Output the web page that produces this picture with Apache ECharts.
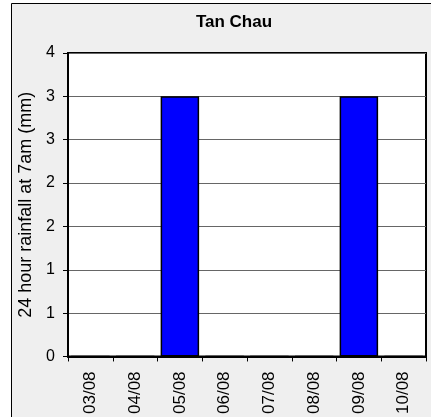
<!DOCTYPE html>
<html>
<head>
<meta charset="utf-8">
<script src="https://cdn.jsdelivr.net/npm/echarts@6/dist/echarts.min.js"></script>
<style>
  html, body { margin: 0; padding: 0; background: #fff; }
  #chart { width: 431px; height: 417px; }
</style>
</head>
<body>
<div id="chart"></div>
<script>
// dates along the bottom
const dates = ['03/08', '04/08', '05/08', '06/08', '07/08', '08/08', '09/08', '10/08']
// 24h rainfall (mm)
const rainfall = [0, 0, 3, 0, 0, 0, 3, 0]
const yMax = 3.5
const yStep = 0.5

const chart = echarts.init(document.getElementById('chart'))
const font = 'Liberation Sans, Arial, sans-serif'

chart.setOption({
  backgroundColor: '#fff',
  animation: false,
  graphic: [{
    type: 'rect',
    z: -10,
    silent: true,
    shape: { x: 11.5, y: 3.5, width: 440, height: 440 },
    style: { fill: '#efefef', stroke: '#000', lineWidth: 1 }
  }],
  title: {
    text: 'Tan Chau',
    left: 229,
    textAlign: 'center',
    top: 9,
    textStyle: { fontFamily: font, fontSize: 17, fontWeight: 'bold', color: '#000' }
  },
  grid: {
    left: 68,
    right: 5,
    top: 53,
    bottom: 60,
    show: true,
    backgroundColor: '#fff',
    borderColor: '#000',
    borderWidth: 2
  },
  xAxis: {
    type: 'category',
    data: dates,
    axisLine: { lineStyle: { color: '#000', width: 2 } },
    axisTick: { show: true, length: 5, lineStyle: { color: '#000' } },
    axisLabel: {
      rotate: 90,
      margin: 15,
      fontFamily: font,
      fontSize: 17,
      color: '#000'
    }
  },
  yAxis: {
    type: 'value',
    min: 0,
    max: yMax,
    interval: yStep,
    name: '24 hour rainfall at 7am (mm)',
    nameLocation: 'middle',
    nameGap: 33,
    nameTextStyle: { fontFamily: font, fontSize: 18, color: '#000' },
    axisLine: { show: true, lineStyle: { color: '#000', width: 2 } },
    axisTick: { show: true, length: 5, lineStyle: { color: '#000' } },
    splitLine: { lineStyle: { color: '#666', width: 1 } },
    axisLabel: {
      margin: 13,
      fontFamily: font,
      fontSize: 16,
      color: '#000',
      formatter: v => Math.round(v)
    }
  },
  series: [{
    type: 'bar',
    data: rainfall,
    barCategoryGap: '14%',
    itemStyle: { color: '#0000ff', borderColor: '#000', borderWidth: 1.5 }
  }]
})
</script>
</body>
</html>
